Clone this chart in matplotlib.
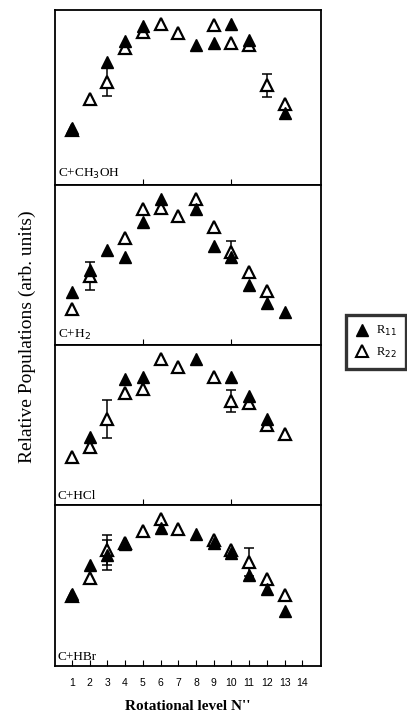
import numpy as np
import matplotlib
matplotlib.use("Agg")
import matplotlib.pyplot as plt
from matplotlib.lines import Line2D

nan = np.nan
N = np.arange(1, 14)

# relative populations (arb. units)
labels = ["C+CH$_3$OH", "C+H$_2$", "C+HCl", "C+HBr"]

r11 = [
    [32.6, nan, 70.3, 82.3, 90.9, nan, nan, 80.0, 81.1, 92.0, 82.9, nan, 41.1],
    [33.1, 46.9, 59.4, 55.0, 76.9, 91.3, nan, 85.0, 61.9, 55.0, 37.5, 26.3, 20.6],
    [nan, 42.5, nan, 78.8, 80.0, nan, nan, 91.3, nan, 80.0, 68.1, 53.8, nan],
    [44.7, 62.7, 68.9, 75.8, nan, 85.7, nan, 82.0, 76.4, 70.2, 56.5, 47.8, 34.2],
]
r22 = [
    [31.4, 49.1, 58.9, 78.3, 87.4, 92.0, 86.9, nan, 91.4, 81.1, 80.0, 57.1, 46.3],
    [22.5, 43.1, nan, 66.9, 85.0, 85.6, 80.6, 91.3, 73.8, 58.1, 45.6, 33.8, nan],
    [30.0, 36.3, 53.8, 70.0, 72.5, 91.3, 86.3, nan, 80.0, 65.0, 63.8, 50.0, 44.4],
    [43.5, 54.7, 72.0, 76.4, 83.9, 91.3, 85.1, nan, 78.3, 72.0, 64.6, 54.0, 44.1],
]
r11_err = [
    [nan] * 13,
    [nan] * 13,
    [nan] * 13,
    [nan, nan, 9.5, nan, nan, nan, nan, nan, nan, nan, nan, nan, nan],
]
r22_err = [
    [nan, nan, 8.3, nan, nan, nan, nan, nan, nan, nan, nan, 6.6, nan],
    [nan, 9.0, nan, nan, nan, nan, nan, nan, nan, 7.0, nan, nan, nan],
    [nan, nan, 12.0, nan, nan, nan, nan, nan, nan, 7.0, nan, nan, nan],
    [nan, nan, 9.5, nan, nan, nan, nan, nan, nan, nan, 9.0, nan, nan],
]

fig = plt.figure(figsize=(4.07, 7.13), dpi=100)
W, H = 407, 713
left, right = 55, 321
bounds = [(10, 185), (185, 345), (345, 505), (505, 666)]

serif = "Liberation Serif"

for i, (top, bot) in enumerate(bounds):
    ax = fig.add_axes([left / W, 1 - bot / H, (right - left) / W, (bot - top) / H])
    a = np.array(r11[i])
    b = np.array(r22[i])
    ea = np.array(r11_err[i])
    eb = np.array(r22_err[i])
    ax.errorbar(N, b, yerr=eb, fmt="none", ecolor="black", elinewidth=1.1,
                capsize=3.5, capthick=1.1, zorder=2)
    ax.errorbar(N, a, yerr=ea, fmt="none", ecolor="black", elinewidth=1.1,
                capsize=3.5, capthick=1.1, zorder=2)
    ax.plot(N, b, linestyle="none", marker="^", ms=8.5, mfc="white",
            mec="black", mew=1.6, zorder=3)
    ax.plot(N, a, linestyle="none", marker="^", ms=9, mfc="black",
            mec="black", zorder=4)
    ax.set_xlim(0.05, 15.05)
    ax.set_ylim(0, 100)
    ax.set_yticks([])
    for s in ax.spines.values():
        s.set_linewidth(1.3)
    ax.text(0.01, 0.02, labels[i], transform=ax.transAxes, ha="left", va="bottom",
            fontsize=9.5, family=serif)
    if i == 3:
        ax.set_xticks(np.arange(1, 15))
        ax.tick_params(axis="x", direction="in", length=4, pad=9, labelsize=7.5)
        for t in ax.get_xticklabels():
            t.set_family("Liberation Sans")
    else:
        ax.set_xticks([5, 10])
        ax.tick_params(axis="x", direction="in", length=4, labelbottom=False)

fig.text(188 / W, 1 - 706 / H, "Rotational level N''", ha="center", va="center",
         fontsize=11, family=serif, fontweight="bold")
fig.text(27 / W, 1 - 337 / H, "Relative Populations (arb. units)", rotation=90,
         ha="center", va="center", fontsize=14, family=serif)

handles = [
    Line2D([], [], linestyle="none", marker="^", ms=8, mfc="black", mec="black"),
    Line2D([], [], linestyle="none", marker="^", ms=8, mfc="white", mec="black", mew=1.5),
]
leg = fig.legend(handles, ["R$_{11}$", "R$_{22}$"], loc="center",
                 bbox_to_anchor=(376 / W, 1 - 342 / H), frameon=True, fancybox=False,
                 prop={"family": serif, "size": 9}, handletextpad=0.5,
                 borderpad=0.7, handlelength=1.2, labelspacing=0.6)
leg.get_frame().set_edgecolor("black")
leg.get_frame().set_linewidth(2.4)

fig.savefig("out.png", dpi=100)
